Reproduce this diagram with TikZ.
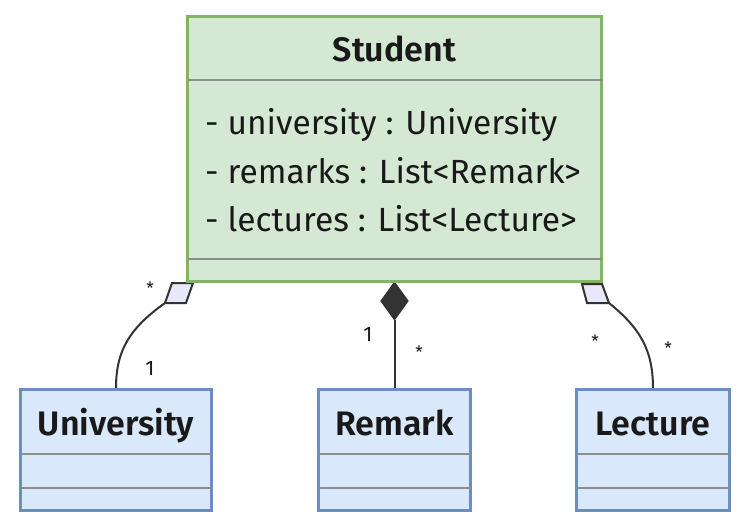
\documentclass[tikz,border=0pt]{standalone}
\usepackage{fontspec}
\setmainfont{Fira Sans}[BoldFont={Fira Sans SemiBold}]
\usetikzlibrary{backgrounds}
\definecolor{sgreen}{HTML}{82B366}
\definecolor{sgreenfill}{HTML}{D5E8D4}
\definecolor{sblue}{HTML}{6C8EBF}
\definecolor{sbluefill}{HTML}{DAE8FC}
\definecolor{divgray}{HTML}{8C8C8C}
\definecolor{lnk}{HTML}{333333}
\definecolor{aggfill}{HTML}{E8E8FA}
\begin{document}
\begin{tikzpicture}[x=1pt,y=-1pt,
  greenbox/.style={draw=sgreen,fill=sgreenfill,line width=3pt,minimum width=414pt,minimum height=265pt,inner sep=0pt},
  bluebox/.style={draw=sblue,fill=sbluefill,line width=3pt,minimum height=121pt,inner sep=0pt},
  divline/.style={draw=divgray,line width=1.8pt,shorten <=1.5pt,shorten >=1.5pt},
  lnkline/.style={draw=lnk,line width=2pt},
  titletext/.style={font=\fontsize{34}{40}\selectfont\bfseries,anchor=base,inner sep=0pt,text=black!90},
  attrtext/.style={font=\fontsize{33.5}{40}\selectfont,anchor=base west,inner sep=0pt,text=black!90},
  multone/.style={font=\fontsize{21}{24}\selectfont,anchor=base,inner sep=0pt,text=black!90},
  multstar/.style={font=\fontsize{17}{20}\selectfont,anchor=base,inner sep=0pt,text=black!90}]
\useasboundingbox (0,0) rectangle (748,527);

% class boxes
\node[greenbox] (student) at (394.5,149) {};
\node[bluebox,minimum width=191pt] (univ) at (116,450) {};
\node[bluebox,minimum width=152pt] (remark) at (394.5,450) {};
\node[bluebox,minimum width=153pt] (lect) at (653,450) {};

% dividers
\draw[divline] (student.west |- 0,80) -- (student.east |- 0,80);
\draw[divline] (student.west |- 0,259) -- (student.east |- 0,259);
\foreach \b in {univ,remark,lect}{
  \draw[divline] (\b.west |- 0,454) -- (\b.east |- 0,454);
  \draw[divline] (\b.west |- 0,488) -- (\b.east |- 0,488);
}

% texts
\node[titletext] (tstudent) at (394.5,62) {Student};
\node[attrtext] (a1) at (205,135) {- university : University};
\node[attrtext] (a2) at (205,183) {- remarks : List<Remark>};
\node[attrtext] (a3) at (205,231) {- lectures : List<Lecture>};
\node[titletext] (tuniv) at (116,435) {University};
\node[titletext] (tremark) at (394.5,435) {Remark};
\node[titletext] (tlect) at (653,435) {Lecture};

% connectors (behind boxes)
\begin{pgfonlayer}{background}
  \coordinate (aggL) at (165,303);
  \draw[lnkline] (aggL) .. controls (130,328) and (116,350) .. (univ.north);
  \draw[lnkline,fill=aggfill] (aggL) -- ++(21,0) -- ++(7,-20) -- ++(-21,0) -- cycle;
  \coordinate (aggR) at (609,303);
  \draw[lnkline] (aggR) .. controls (640,328) and (653,350) .. (lect.north);
  \draw[lnkline,fill=aggfill] (aggR) -- ++(-22,0) -- ++(-5,-19) -- ++(20,0) -- cycle;
  \coordinate (compTail) at (394.5,320);
  \draw[lnkline] (compTail) -- (remark.north);
  \draw[lnkline,fill=lnk] (student.south) -- ++(-13,18) -- ++(13,18) -- ++(13,-18) -- cycle;
\end{pgfonlayer}

% multiplicities
\node[multstar] (mL1) at (150,294) {*};
\node[multone] (mL2) at (150,375) {1};
\node[multone] (mC1) at (368,341) {1};
\node[multstar] (mC2) at (419,358) {*};
\node[multstar] (mR1) at (595,347) {*};
\node[multstar] (mR2) at (668,354) {*};
\end{tikzpicture}
\end{document}
